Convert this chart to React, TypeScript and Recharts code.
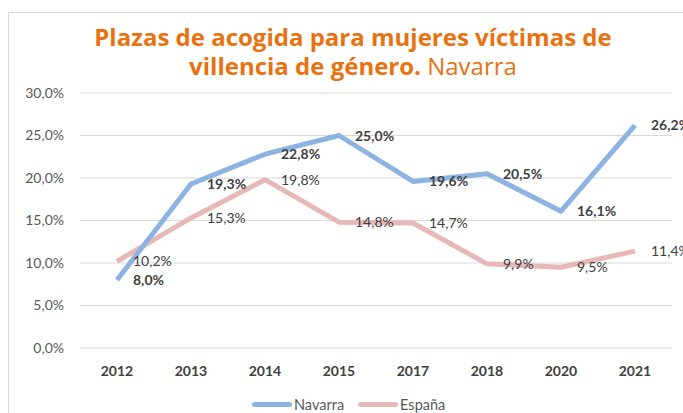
import React from 'react';
import { LineChart, Line, XAxis, YAxis, CartesianGrid, LabelList } from 'recharts';

const years = ['2012', '2013', '2014', '2015', '2017', '2018', '2020', '2021'];
const navarra = [8.0, 19.3, 22.8, 25.0, 19.6, 20.5, 16.1, 26.2];
const espana = [10.2, 15.3, 19.8, 14.8, 14.7, 9.9, 9.5, 11.4];
const yTicks = [0, 5, 10, 15, 20, 25, 30];

const data = years.map((y, i) => ({ year: y, Navarra: navarra[i], Espana: espana[i] }));

const fmt = (v: number) => v.toFixed(1).replace('.', ',') + '%';
const FONT = 'Lato, "Open Sans", sans-serif';

const makeLabel = (bold: boolean) => (props: any) => {
  const { x, y, value } = props;
  return (
    <text
      x={x + 16}
      y={y}
      dy={5}
      textAnchor="start"
      fontFamily={FONT}
      fontSize={14}
      fontWeight={bold ? 700 : 400}
      fill="#404040"
    >
      {fmt(value)}
    </text>
  );
};

const LegendItem = ({ color, label }: { color: string; label: string }) => (
  <div style={{ display: 'flex', alignItems: 'center', marginRight: 14 }}>
    <div style={{ width: 40, height: 5, borderRadius: 3, background: color, marginRight: 2 }} />
    <span style={{ fontFamily: FONT, fontSize: 14.5, color: '#595959' }}>{label}</span>
  </div>
);

export default function App() {
  return (
    <div style={{ position: 'absolute', left: 0, top: 0, width: 683, height: 413, background: '#fff', overflow: 'hidden' }}>
      <div style={{ position: 'absolute', left: 8, top: 12, width: 720, height: 440, border: '1px solid #d9d9d9' }} />
      <div
        style={{
          position: 'absolute',
          left: 0,
          top: 22,
          width: 706,
          textAlign: 'center',
          fontFamily: '"Open Sans", Lato, sans-serif',
          fontSize: 24,
          lineHeight: '29px',
          color: '#E8720F',
        }}
      >
        <div style={{ fontWeight: 700 }}>Plazas de acogida para mujeres víctimas de</div>
        <div>
          <span style={{ fontWeight: 700 }}>villencia de género.</span> <span style={{ fontWeight: 400 }}>Navarra</span>
        </div>
      </div>
      <div style={{ position: 'absolute', left: 0, top: 0 }}>
        <LineChart width={683} height={413} data={data} margin={{ top: 93, right: 11, bottom: 35, left: 0 }}>
          <CartesianGrid vertical={false} stroke="#d9d9d9" strokeWidth={1} />
          <XAxis
            dataKey="year"
            height={30}
            axisLine={false}
            tickLine={false}
            tickMargin={12}
            padding={{ left: 37, right: 37 }}
            tick={{ fontFamily: FONT, fontSize: 14, fontWeight: 700, fill: '#404040' }}
          />
          <YAxis
            width={80}
            domain={[0, 30]}
            ticks={yTicks}
            axisLine={false}
            tickLine={false}
            tickMargin={10}
            tickFormatter={(v: number) => fmt(v)}
            tick={{ fontFamily: FONT, fontSize: 14, fill: '#595959' }}
          />
          <Line
            dataKey="Espana"
            stroke="#E6B9B8"
            strokeWidth={5}
            dot={false}
            strokeLinejoin="round"
            isAnimationActive={false}
          >
            <LabelList dataKey="Espana" content={makeLabel(false)} />
          </Line>
          <Line
            dataKey="Navarra"
            stroke="#8DB3E2"
            strokeWidth={5}
            dot={false}
            strokeLinejoin="round"
            isAnimationActive={false}
          >
            <LabelList dataKey="Navarra" content={makeLabel(true)} />
          </Line>
        </LineChart>
      </div>
      <div style={{ position: 'absolute', left: 252, top: 396, display: 'flex' }}>
        <LegendItem color="#8DB3E2" label="Navarra" />
        <LegendItem color="#E6B9B8" label="España" />
      </div>
    </div>
  );
}
